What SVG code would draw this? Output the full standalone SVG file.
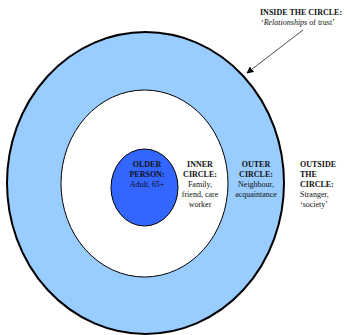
<svg xmlns="http://www.w3.org/2000/svg" width="347" height="335" viewBox="0 0 347 335">
<defs>
<marker id="ah" viewBox="0 0 10 10" refX="9" refY="5" markerWidth="7" markerHeight="7" orient="auto" markerUnits="userSpaceOnUse">
<path d="M0,0 L10,5 L0,10 z" fill="#000"/>
</marker>
<style>
text{font-family:"Liberation Serif","Times New Roman",serif;font-size:8px;fill:#111}
.b{font-weight:bold}
.m{text-anchor:middle}
</style>
</defs>
<rect width="347" height="335" fill="#fff"/>
<g id="outer-circle">
<ellipse cx="145.5" cy="183" rx="138.5" ry="151" fill="#99CCFF" stroke="#000" stroke-width="2"/>
</g>
<g id="inner-circle">
<ellipse cx="144.5" cy="183.5" rx="83.5" ry="93.5" fill="#fff" stroke="#000" stroke-width="1"/>
</g>
<g id="older-person">
<ellipse cx="144.5" cy="187.5" rx="33.5" ry="38.5" fill="#3366FF" stroke="#000" stroke-width="1"/>
<text class="b m" x="147" y="167">OLDER</text>
<text class="b m" x="147" y="177">PERSON:</text>
<text class="m" x="147" y="187">Adult, 65+</text>
</g>
<g id="inner-label">
<text class="b m" x="200" y="167">INNER</text>
<text class="b m" x="200" y="177">CIRCLE:</text>
<text class="m" x="200" y="187">Family,</text>
<text class="m" x="200" y="197">friend, care</text>
<text class="m" x="200" y="207">worker</text>
</g>
<g id="outer-label">
<text class="b m" x="256" y="167">OUTER</text>
<text class="b m" x="256" y="177">CIRCLE:</text>
<text class="m" x="256" y="187">Neighbour,</text>
<text class="m" x="256" y="197">acquaintance</text>
</g>
<g id="outside-label">
<text class="b" x="300" y="167">OUTSIDE</text>
<text class="b" x="300" y="177">THE</text>
<text class="b" x="300" y="187">CIRCLE:</text>
<text x="300" y="197">Stranger,</text>
<text x="300" y="207">‘society’</text>
</g>
<g id="inside-label">
<text class="b" x="260" y="15">INSIDE THE CIRCLE:</text>
<text x="261" y="25">‘<tspan font-style="italic">Relationships</tspan> of trust’</text>
</g>
<g id="connectors">
<line x1="303" y1="30" x2="247" y2="73" stroke="#000" stroke-width="0.7" marker-end="url(#ah)"/>
</g>
</svg>
